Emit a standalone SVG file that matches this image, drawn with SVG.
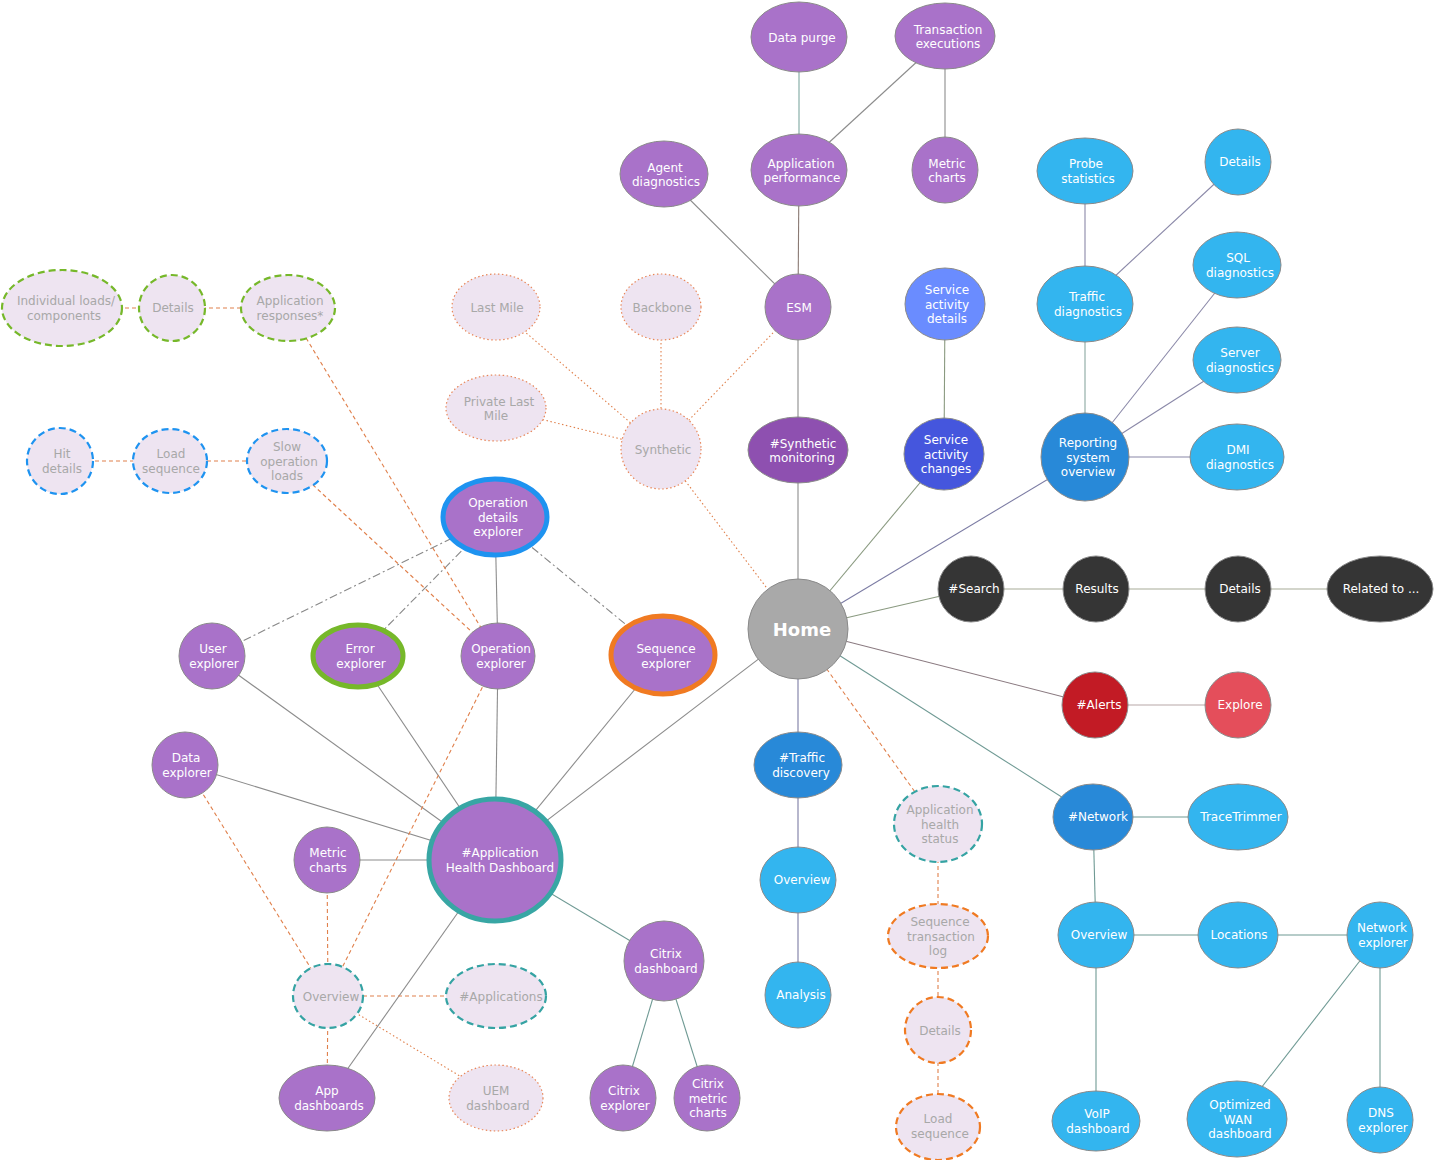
<svg xmlns="http://www.w3.org/2000/svg" width="1436" height="1160" viewBox="0 0 1436 1160">
<style>
text{font-family:"DejaVu Sans","Verdana","Liberation Sans",sans-serif;font-size:12px;fill:#fff;text-anchor:middle}
.home{font-size:18px;font-weight:bold}
.f{fill:#a8a8a8}
.n{stroke:#8a8a8a;stroke-width:1}
.pu{fill:#a972c9}
.sm{fill:#8e50b0}
.lb{fill:#33b5ef}
.mb{fill:#2889d8}
.dk{fill:#353535}
.fd{fill:#eee4f1}
.gd{stroke:#76b82a;stroke-width:2.2;stroke-dasharray:7,4}
.bd{stroke:#1e93f0;stroke-width:2.2;stroke-dasharray:7,4}
.td{stroke:#35a3a3;stroke-width:2.2;stroke-dasharray:7,4}
.od{stroke:#f07a22;stroke-width:2.2;stroke-dasharray:7,4}
.dt{stroke:#e8875a;stroke-width:1.2;stroke-dasharray:1.5,2.5}
.c line{stroke:#8c8c8c;stroke-width:1.1}
.c .dd{stroke:#e0804c;stroke-dasharray:4,3}
.c .do{stroke:#e0804c;stroke-dasharray:1.5,2.5}
.c .da{stroke:#888;stroke-dasharray:8,3,2,3}
</style>
<rect width="1436" height="1160" fill="#fff"/>
<g class="c" id="connectors">
<line x1="799" y1="37" x2="799" y2="170" style="stroke:#7ea8a0"/>
<line x1="945" y1="36" x2="799" y2="170"/>
<line x1="945" y1="36" x2="945" y2="170"/>
<line x1="799" y1="170" x2="798" y2="307" style="stroke:#8a7a74"/>
<line x1="664" y1="174" x2="798" y2="307"/>
<line x1="798" y1="307" x2="798" y2="450"/>
<line x1="798" y1="450" x2="798" y2="629"/>
<line x1="945" y1="304" x2="944" y2="454" style="stroke:#8a9a80"/>
<line x1="944" y1="454" x2="798" y2="629" style="stroke:#8a9a80"/>
<line x1="1085" y1="171" x2="1085" y2="304" style="stroke:#8a88a8"/>
<line x1="1238" y1="162" x2="1085" y2="304" style="stroke:#8a88a8"/>
<line x1="1085" y1="304" x2="1085" y2="457" style="stroke:#8aa8a0"/>
<line x1="1237" y1="265" x2="1085" y2="457" style="stroke:#8a88a8"/>
<line x1="1237" y1="360" x2="1085" y2="457" style="stroke:#8a88a8"/>
<line x1="1237" y1="457" x2="1085" y2="457" style="stroke:#8a88a8"/>
<line x1="1085" y1="457" x2="798" y2="629" style="stroke:#7c7ca4"/>
<line x1="798" y1="629" x2="971" y2="589" style="stroke:#8a9a80"/>
<line x1="971" y1="589" x2="1380" y2="589" style="stroke:#a8ac98"/>
<line x1="798" y1="629" x2="1095" y2="705" style="stroke:#8a7a80"/>
<line x1="1095" y1="705" x2="1238" y2="705" style="stroke:#b8a8a8"/>
<line x1="798" y1="629" x2="1093" y2="817" style="stroke:#6f9a94"/>
<line x1="1093" y1="817" x2="1238" y2="817" style="stroke:#6f9a94"/>
<line x1="1093" y1="817" x2="1096" y2="935" style="stroke:#6f9a94"/>
<line x1="1096" y1="935" x2="1380" y2="935" style="stroke:#6f9a94"/>
<line x1="1096" y1="935" x2="1096" y2="1121" style="stroke:#6f9a94"/>
<line x1="1380" y1="935" x2="1237" y2="1119" style="stroke:#6f9a94"/>
<line x1="1380" y1="935" x2="1380" y2="1120" style="stroke:#6f9a94"/>
<line x1="798" y1="629" x2="798" y2="765" style="stroke:#7c7ca4"/>
<line x1="798" y1="765" x2="798" y2="995" style="stroke:#7c7ca4"/>
<line x1="798" y1="629" x2="495" y2="860"/>
<line x1="495" y1="860" x2="212" y2="656"/>
<line x1="495" y1="860" x2="358" y2="656"/>
<line x1="495" y1="860" x2="498" y2="656"/>
<line x1="495" y1="860" x2="663" y2="655"/>
<line x1="495" y1="860" x2="185" y2="765"/>
<line x1="495" y1="860" x2="327" y2="860"/>
<line x1="495" y1="860" x2="664" y2="961" style="stroke:#6f9a94"/>
<line x1="495" y1="860" x2="327" y2="1098"/>
<line x1="495" y1="517" x2="498" y2="656"/>
<line x1="664" y1="961" x2="623" y2="1098" style="stroke:#6f9a94"/>
<line x1="664" y1="961" x2="707" y2="1098" style="stroke:#6f9a94"/>
<line class="da" x1="495" y1="517" x2="212" y2="656"/>
<line class="da" x1="495" y1="517" x2="358" y2="656"/>
<line class="da" x1="495" y1="517" x2="663" y2="655"/>
<line class="dd" x1="62" y1="308" x2="288" y2="308"/>
<line class="dd" x1="60" y1="461" x2="287" y2="461"/>
<line class="dd" x1="288" y1="308" x2="498" y2="656"/>
<line class="dd" x1="287" y1="461" x2="498" y2="656"/>
<line class="dd" x1="498" y1="656" x2="328" y2="996"/>
<line class="dd" x1="185" y1="765" x2="328" y2="996"/>
<line class="dd" x1="327" y1="860" x2="328" y2="996"/>
<line class="dd" x1="328" y1="996" x2="496" y2="996"/>
<line class="dd" x1="328" y1="996" x2="327" y2="1098"/>
<line class="do" x1="328" y1="996" x2="496" y2="1098"/>
<line class="dd" x1="798" y1="629" x2="938" y2="824"/>
<line class="dd" x1="938" y1="824" x2="938" y2="1127"/>
<line class="do" x1="496" y1="307" x2="661" y2="449"/>
<line class="do" x1="661" y1="307" x2="661" y2="449"/>
<line class="do" x1="496" y1="408" x2="661" y2="449"/>
<line class="do" x1="798" y1="307" x2="661" y2="449"/>
<line class="do" x1="661" y1="449" x2="798" y2="629"/>
</g>

<g id="data-purge"><ellipse class="n pu" cx="799" cy="37" rx="48" ry="35"/><text x="802" y="41.5">Data purge</text></g>
<g id="transaction-executions"><ellipse class="n pu" cx="945" cy="36" rx="50" ry="33"/><text><tspan x="948" y="33.5">Transaction</tspan><tspan x="948" y="48">executions</tspan></text></g>
<g id="application-performance"><ellipse class="n pu" cx="799" cy="170" rx="48" ry="36"/><text><tspan x="801" y="167.5">Application</tspan><tspan x="802" y="182">performance</tspan></text></g>
<g id="metric-charts-top"><ellipse class="n pu" cx="945" cy="170" rx="33" ry="33"/><text><tspan x="947" y="167.5">Metric</tspan><tspan x="947" y="182">charts</tspan></text></g>
<g id="agent-diagnostics"><ellipse class="n pu" cx="664" cy="174" rx="44" ry="33"/><text><tspan x="665" y="171.5">Agent</tspan><tspan x="666" y="186">diagnostics</tspan></text></g>
<g id="esm"><ellipse class="n pu" cx="798" cy="307" rx="33" ry="33"/><text x="799" y="311.5">ESM</text></g>
<g id="service-activity-details"><ellipse class="n" style="fill:#6a8cff" cx="945" cy="304" rx="40" ry="36"/><text><tspan x="947" y="294">Service</tspan><tspan x="947" y="308.5">activity</tspan><tspan x="947" y="323">details</tspan></text></g>
<g id="synthetic-monitoring"><ellipse class="n sm" cx="798" cy="450" rx="50" ry="33"/><text><tspan x="803" y="447.5">#Synthetic</tspan><tspan x="802" y="462">monitoring</tspan></text></g>
<g id="service-activity-changes"><ellipse class="n" style="fill:#4556dd" cx="944" cy="454" rx="40" ry="36"/><text><tspan x="946" y="444">Service</tspan><tspan x="946" y="458.5">activity</tspan><tspan x="946" y="473">changes</tspan></text></g>
<g id="probe-statistics"><ellipse class="n lb" cx="1085" cy="171" rx="48" ry="33"/><text><tspan x="1086" y="168">Probe</tspan><tspan x="1088" y="182.5">statistics</tspan></text></g>
<g id="details-blue"><ellipse class="n lb" cx="1238" cy="162" rx="33" ry="33"/><text x="1240" y="166">Details</text></g>
<g id="traffic-diagnostics"><ellipse class="n lb" cx="1085" cy="304" rx="48" ry="38"/><text><tspan x="1087" y="301">Traffic</tspan><tspan x="1088" y="315.5">diagnostics</tspan></text></g>
<g id="sql-diagnostics"><ellipse class="n lb" cx="1237" cy="265" rx="44" ry="33"/><text><tspan x="1238" y="262">SQL</tspan><tspan x="1240" y="276.5">diagnostics</tspan></text></g>
<g id="server-diagnostics"><ellipse class="n lb" cx="1237" cy="360" rx="44" ry="33"/><text><tspan x="1240" y="357">Server</tspan><tspan x="1240" y="371.5">diagnostics</tspan></text></g>
<g id="reporting-system-overview"><ellipse class="n mb" cx="1085" cy="457" rx="44" ry="44"/><text><tspan x="1088" y="447">Reporting</tspan><tspan x="1088" y="461.5">system</tspan><tspan x="1088" y="476">overview</tspan></text></g>
<g id="dmi-diagnostics"><ellipse class="n lb" cx="1237" cy="457" rx="47" ry="33"/><text><tspan x="1238" y="454">DMI</tspan><tspan x="1240" y="468.5">diagnostics</tspan></text></g>
<g id="search"><ellipse class="n dk" cx="971" cy="589" rx="33" ry="33"/><text x="974" y="593">#Search</text></g>
<g id="results"><ellipse class="n dk" cx="1096" cy="589" rx="33" ry="33"/><text x="1097" y="593">Results</text></g>
<g id="details-dark"><ellipse class="n dk" cx="1238" cy="589" rx="33" ry="33"/><text x="1240" y="593">Details</text></g>
<g id="related-to"><ellipse class="n dk" cx="1380" cy="589" rx="53" ry="33"/><text x="1381" y="593">Related to ...</text></g>
<g id="home"><ellipse class="n" style="fill:#a9a9a9" cx="798" cy="629" rx="50" ry="50"/><text class="home" x="802" y="636">Home</text></g>
<g id="alerts"><ellipse class="n" style="fill:#c21b25" cx="1095" cy="705" rx="33" ry="33"/><text x="1099" y="709">#Alerts</text></g>
<g id="explore"><ellipse class="n" style="fill:#e44e5b" cx="1238" cy="705" rx="33" ry="33"/><text x="1240" y="709">Explore</text></g>
<g id="network"><ellipse class="n mb" cx="1093" cy="817" rx="40" ry="33"/><text x="1098" y="821">#Network</text></g>
<g id="tracetrimmer"><ellipse class="n lb" cx="1238" cy="817" rx="50" ry="33"/><text x="1241" y="821">TraceTrimmer</text></g>
<g id="overview-network"><ellipse class="n lb" cx="1096" cy="935" rx="38" ry="33"/><text x="1099" y="939">Overview</text></g>
<g id="locations"><ellipse class="n lb" cx="1238" cy="935" rx="40" ry="33"/><text x="1239" y="939">Locations</text></g>
<g id="network-explorer"><ellipse class="n lb" cx="1380" cy="935" rx="33" ry="33"/><text><tspan x="1382" y="932">Network</tspan><tspan x="1383" y="946.5">explorer</tspan></text></g>
<g id="voip-dashboard"><ellipse class="n lb" cx="1096" cy="1121" rx="44" ry="30"/><text><tspan x="1097" y="1118">VoIP</tspan><tspan x="1098" y="1132.5">dashboard</tspan></text></g>
<g id="optimized-wan-dashboard"><ellipse class="n lb" cx="1237" cy="1119" rx="50" ry="38"/><text><tspan x="1240" y="1109">Optimized</tspan><tspan x="1238" y="1123.5">WAN</tspan><tspan x="1240" y="1138">dashboard</tspan></text></g>
<g id="dns-explorer"><ellipse class="n lb" cx="1380" cy="1120" rx="33" ry="33"/><text><tspan x="1381" y="1117">DNS</tspan><tspan x="1383" y="1131.5">explorer</tspan></text></g>
<g id="traffic-discovery"><ellipse class="n mb" cx="798" cy="765" rx="44" ry="33"/><text><tspan x="802" y="762">#Traffic</tspan><tspan x="801" y="776.5">discovery</tspan></text></g>
<g id="overview-traffic"><ellipse class="n lb" cx="798" cy="880" rx="38" ry="33"/><text x="802" y="884">Overview</text></g>
<g id="analysis"><ellipse class="n lb" cx="798" cy="995" rx="33" ry="33"/><text x="801" y="999">Analysis</text></g>
<g id="application-health-status"><ellipse class="td fd" cx="938" cy="824" rx="44" ry="38"/><text class="f"><tspan x="940" y="814">Application</tspan><tspan x="940" y="828.5">health</tspan><tspan x="940" y="843">status</tspan></text></g>
<g id="sequence-transaction-log"><ellipse class="od fd" cx="938" cy="936" rx="50" ry="32"/><text class="f"><tspan x="940" y="926">Sequence</tspan><tspan x="941" y="940.5">transaction</tspan><tspan x="938" y="955">log</tspan></text></g>
<g id="details-orange"><ellipse class="od fd" cx="938" cy="1030" rx="33" ry="33"/><text class="f" x="940" y="1035">Details</text></g>
<g id="load-sequence-orange"><ellipse class="od fd" cx="938" cy="1127" rx="42" ry="33"/><text class="f"><tspan x="938" y="1123">Load</tspan><tspan x="940" y="1137.5">sequence</tspan></text></g>
<g id="last-mile"><ellipse class="dt fd" cx="496" cy="307" rx="44" ry="33"/><text class="f" x="497" y="311.5">Last Mile</text></g>
<g id="backbone"><ellipse class="dt fd" cx="661" cy="307" rx="40" ry="33"/><text class="f" x="662" y="311.5">Backbone</text></g>
<g id="private-last-mile"><ellipse class="dt fd" cx="496" cy="408" rx="50" ry="33"/><text class="f"><tspan x="499" y="405.5">Private Last</tspan><tspan x="496" y="420">Mile</tspan></text></g>
<g id="synthetic"><ellipse class="dt fd" cx="661" cy="449" rx="40" ry="40"/><text class="f" x="663" y="453.5">Synthetic</text></g>
<g id="individual-loads"><ellipse class="gd fd" cx="62" cy="308" rx="60" ry="38"/><text class="f"><tspan x="66" y="305">Individual loads/</tspan><tspan x="64" y="319.5">components</tspan></text></g>
<g id="details-green"><ellipse class="gd fd" cx="172" cy="308" rx="33" ry="33"/><text class="f" x="173" y="312">Details</text></g>
<g id="application-responses"><ellipse class="gd fd" cx="288" cy="308" rx="47" ry="33"/><text class="f"><tspan x="290" y="305">Application</tspan><tspan x="290" y="319.5">responses*</tspan></text></g>
<g id="hit-details"><ellipse class="bd fd" cx="60" cy="461" rx="33" ry="33"/><text class="f"><tspan x="62" y="458">Hit</tspan><tspan x="62" y="472.5">details</tspan></text></g>
<g id="load-sequence-blue"><ellipse class="bd fd" cx="170" cy="461" rx="37" ry="32"/><text class="f"><tspan x="171" y="458">Load</tspan><tspan x="171" y="472.5">sequence</tspan></text></g>
<g id="slow-operation-loads"><ellipse class="bd fd" cx="287" cy="461" rx="40" ry="32"/><text class="f"><tspan x="287" y="451">Slow</tspan><tspan x="289" y="465.5">operation</tspan><tspan x="287" y="480">loads</tspan></text></g>
<g id="operation-details-explorer"><ellipse class="pu" style="stroke:#1e93f0;stroke-width:5" cx="495" cy="517" rx="52" ry="38"/><text><tspan x="498" y="507">Operation</tspan><tspan x="498" y="521.5">details</tspan><tspan x="498" y="536">explorer</tspan></text></g>
<g id="user-explorer"><ellipse class="n pu" cx="212" cy="656" rx="33" ry="33"/><text><tspan x="213" y="653">User</tspan><tspan x="214" y="667.5">explorer</tspan></text></g>
<g id="error-explorer"><ellipse class="pu" style="stroke:#76b82a;stroke-width:5" cx="358" cy="656" rx="45" ry="31"/><text><tspan x="360" y="653">Error</tspan><tspan x="361" y="667.5">explorer</tspan></text></g>
<g id="operation-explorer"><ellipse class="n pu" cx="498" cy="656" rx="37" ry="33"/><text><tspan x="501" y="653">Operation</tspan><tspan x="501" y="667.5">explorer</tspan></text></g>
<g id="sequence-explorer"><ellipse class="pu" style="stroke:#f07a22;stroke-width:5" cx="663" cy="655" rx="52" ry="39"/><text><tspan x="666" y="653">Sequence</tspan><tspan x="666" y="667.5">explorer</tspan></text></g>
<g id="data-explorer"><ellipse class="n pu" cx="185" cy="765" rx="33" ry="33"/><text><tspan x="186" y="762">Data</tspan><tspan x="187" y="776.5">explorer</tspan></text></g>
<g id="metric-charts-left"><ellipse class="n pu" cx="327" cy="860" rx="33" ry="33"/><text><tspan x="328" y="857">Metric</tspan><tspan x="328" y="871.5">charts</tspan></text></g>
<g id="application-health-dashboard"><ellipse class="pu" style="stroke:#38a6a4;stroke-width:5" cx="495" cy="860" rx="66" ry="61"/><text><tspan x="500" y="857">#Application</tspan><tspan x="500" y="871.5">Health Dashboard</tspan></text></g>
<g id="citrix-dashboard"><ellipse class="n pu" cx="664" cy="961" rx="40" ry="40"/><text><tspan x="666" y="958">Citrix</tspan><tspan x="666" y="972.5">dashboard</tspan></text></g>
<g id="overview-left"><ellipse class="td fd" cx="328" cy="996" rx="35" ry="32"/><text class="f" x="331" y="1000.5">Overview</text></g>
<g id="applications"><ellipse class="td fd" cx="496" cy="996" rx="50" ry="32"/><text class="f" x="501" y="1000.5">#Applications</text></g>
<g id="app-dashboards"><ellipse class="n pu" cx="327" cy="1098" rx="48" ry="33"/><text><tspan x="327" y="1095">App</tspan><tspan x="329" y="1109.5">dashboards</tspan></text></g>
<g id="uem-dashboard"><ellipse class="dt fd" cx="496" cy="1098" rx="47" ry="33"/><text class="f"><tspan x="496" y="1095">UEM</tspan><tspan x="498" y="1109.5">dashboard</tspan></text></g>
<g id="citrix-explorer"><ellipse class="n pu" cx="623" cy="1098" rx="33" ry="33"/><text><tspan x="624" y="1095">Citrix</tspan><tspan x="625" y="1109.5">explorer</tspan></text></g>
<g id="citrix-metric-charts"><ellipse class="n pu" cx="707" cy="1098" rx="33" ry="33"/><text><tspan x="708" y="1088">Citrix</tspan><tspan x="708" y="1102.5">metric</tspan><tspan x="708" y="1117">charts</tspan></text></g>
</svg>
